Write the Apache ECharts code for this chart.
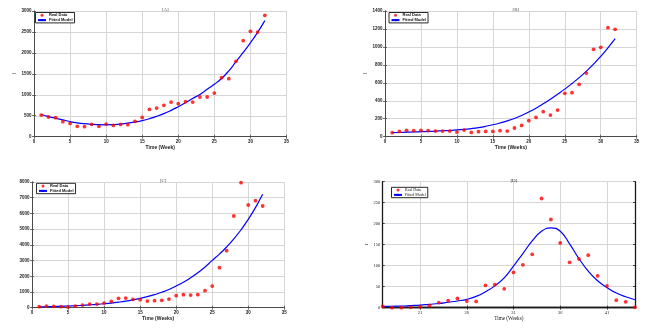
<!DOCTYPE html>
<html><head><meta charset="utf-8">
<script src="https://cdn.jsdelivr.net/npm/echarts@6/dist/echarts.min.js"></script>
<style>html,body{margin:0;padding:0;background:#fff}#c{width:661px;height:332px}</style>
</head><body><div id="c"></div>
<script>
const weeks = [1,2,3,4,5,6,7,8,9,10,11,12,13,14,15,16,17,18,19,20,21,22,23,24,25,26,27,28,29,30,31,32];
const realA = [517,470,453,358,318,247,239,294,247,302,270,294,286,366,461,652,684,748,827,788,835,827,947,947,1042,1408,1384,1798,2291,2514,2498,2896];
const fitA  = [530,480,440,400,362,332,310,295,286,284,290,302,322,350,385,430,485,550,628,716,810,910,1010,1130,1250,1390,1570,1790,2010,2240,2490,2770];
const realB = [45,59,71,67,71,67,63,63,63,52,74,48,56,59,59,67,63,97,126,178,215,279,241,297,483,490,583,709,973,995,1214,1196];
const fitB  = [45,47,50,53,56,59,62,66,70,75,82,91,102,116,133,153,176,203,236,275,318,366,418,473,530,592,658,730,808,895,990,1092];
const realC = [64,106,85,64,42,106,170,233,233,297,403,594,615,530,509,424,446,467,552,764,828,806,828,1082,1379,2546,3629,5836,7958,6536,6812,6472];
const fitC  = [50,62,75,90,108,128,152,180,212,250,295,350,415,495,590,700,830,980,1160,1380,1620,1900,2220,2590,3010,3410,3865,4380,4960,5620,6370,7215];
const weeksD = [17,18,19,20,21,22,23,24,25,26,27,28,29,30,31,32,33,34,35,36,37,38,39,40,41,42,43,44];
const realD = [3,0,0,1,2,5,12,17,22,16,15,53,55,45,84,102,127,260,210,154,108,116,125,76,52,18,14,1];
const fitD  = [3,3.5,4,5,6,8,10,13,16,20,27,38,52,71,99,129,159,182,190,182,152,117,87,64,48,35,26,19];
const ticksD = [21,26,31,36,41];
const titles = ['[A]','[B]','[C]','[D]'];
const xNames = ['Time (Week)','Time (Weeks)','Time (Weeks)','Time (Weeks)'];
const yName = 'I';

const panels = [
  {grid:{left:34,top:11,width:252.5,height:125.7}, xmin:0,xmax:35,xint:5, ymax:3000,yint:500, x:weeks, real:realA, fit:fitA, serif:false, leg:{left:35.5,top:12.5}, yname:yName},
  {grid:{left:385,top:11,width:251.7,height:125.7}, xmin:0,xmax:35,xint:5, ymax:1400,yint:200, x:weeks, real:realB, fit:fitB, serif:false, leg:{left:389,top:12.5}, yname:yName},
  {grid:{left:32,top:182,width:252.3,height:125.7}, xmin:0,xmax:35,xint:5, ymax:8000,yint:1000, x:weeks, real:realC, fit:fitC, serif:false, leg:{left:36.5,top:183.3}, yname:''},
  {grid:{left:382.7,top:181.7,width:252.3,height:126}, xmin:17,xmax:44,custom:ticksD, ymax:300,yint:50, x:weeksD, real:realD, fit:fitD, serif:true, leg:{left:391.5,top:187.3}, yname:yName}
];

const option = {animation:false, backgroundColor:'#fff', grid:[], xAxis:[], yAxis:[], series:[], title:[], legend:[]};
panels.forEach((p,i)=>{
  const ff = p.serif ? 'Liberation Serif' : 'Liberation Sans';
  const fw = p.serif ? 'normal' : 'bold';
  const frame = p.serif ? '#1a1a1a' : '#4a4a4a';
  const fwid = p.serif ? 1.3 : 1;
  const gridLine = {show:true, lineStyle:{color:'#d6d6d6', width:1}};
  option.grid.push(Object.assign({show:false, containLabel:false}, p.grid));
  const tickCfg = {show:true, inside:true, length:2, lineStyle:{color:frame, width:0.8}};
  const labelCfg = {fontSize:4.5, fontFamily:ff, fontWeight:fw, color:'#222', margin:2.5, formatter:(v)=>String(v)};
  const xBase = {type:'value', gridIndex:i, min:p.xmin, max:p.xmax};
  if (p.custom) {
    xBase.axisTick = Object.assign({customValues:p.custom}, tickCfg);
  } else {
    xBase.interval = p.xint;
    xBase.axisTick = tickCfg;
  }
  option.xAxis.push(Object.assign({}, xBase, {
    position:'bottom',
    axisLine:{show:true, lineStyle:{color:frame, width:fwid}},
    axisLabel: p.custom ? Object.assign({customValues:p.custom}, labelCfg) : labelCfg,
    splitLine: gridLine,
    name: xNames[i], nameLocation:'middle', nameGap:8,
    nameTextStyle:{fontSize: p.serif?5.2:5, fontFamily:ff, fontWeight:fw, color:'#222'}
  }));
  option.xAxis.push(Object.assign({}, xBase, {
    position:'top', axisLine:{show:true, lineStyle:{color:frame, width:fwid}},
    axisLabel:{show:false}, splitLine:{show:false}
  }));
  option.yAxis.push({type:'value', gridIndex:i, min:0, max:p.ymax, interval:p.yint, position:'left',
    axisLine:{show:true, lineStyle:{color:frame, width:fwid}},
    axisTick:tickCfg, axisLabel:labelCfg,
    splitLine: gridLine,
    name:p.yname, nameLocation:'middle', nameGap:13, nameRotate:90,
    nameTextStyle:{fontSize:5, fontFamily:ff, color:'#222'}
  });
  option.yAxis.push({type:'value', gridIndex:i, min:0, max:p.ymax, interval:p.yint, position:'right',
    axisLine:{show:true, lineStyle:{color:frame, width:fwid}},
    axisTick:tickCfg, axisLabel:{show:false}, splitLine:{show:false}
  });
  option.title.push({text:titles[i], left:p.grid.left + p.grid.width/2, top:p.grid.top-9, textAlign:'center',
    textStyle:{fontSize:5, fontFamily:'Liberation Serif', fontWeight:'normal', color: p.serif ? '#222' : '#555'}});
  option.series.push({name:'Real Data', type:'scatter', xAxisIndex:2*i, yAxisIndex:2*i,
    data:p.x.map((v,k)=>[v,p.real[k]]), symbol:'circle', symbolSize:3.8, itemStyle:{color:'#ff0000'}, clip:false, z:3});
  option.series.push({name:'Fitted Model', type:'line', xAxisIndex:2*i, yAxisIndex:2*i,
    data:p.x.map((v,k)=>[v,p.fit[k]]), smooth:0.5, symbol:'none', lineStyle:{color:'#0000ff', width:1.2}, itemStyle:{color:'#0000ff'}, z:2});
  option.legend.push({orient:'vertical', left:p.leg.left, top:p.leg.top, selectedMode:false,
    data:[{name:'Real Data', icon:'circle'},{name:'Fitted Model'}],
    itemWidth:8, itemHeight:3, itemGap:0.8, padding:[0.8,2,0.8,1.5],
    borderColor:'#111', borderWidth:0.9, backgroundColor:'#fff',
    textStyle:{fontSize:4, fontFamily:ff, fontWeight:fw, color:'#111', padding:[0,0,0,-2]}});
});

const chart = echarts.init(document.getElementById('c'), null, {renderer:'canvas'});
chart.setOption(option);
</script>
</body></html>
